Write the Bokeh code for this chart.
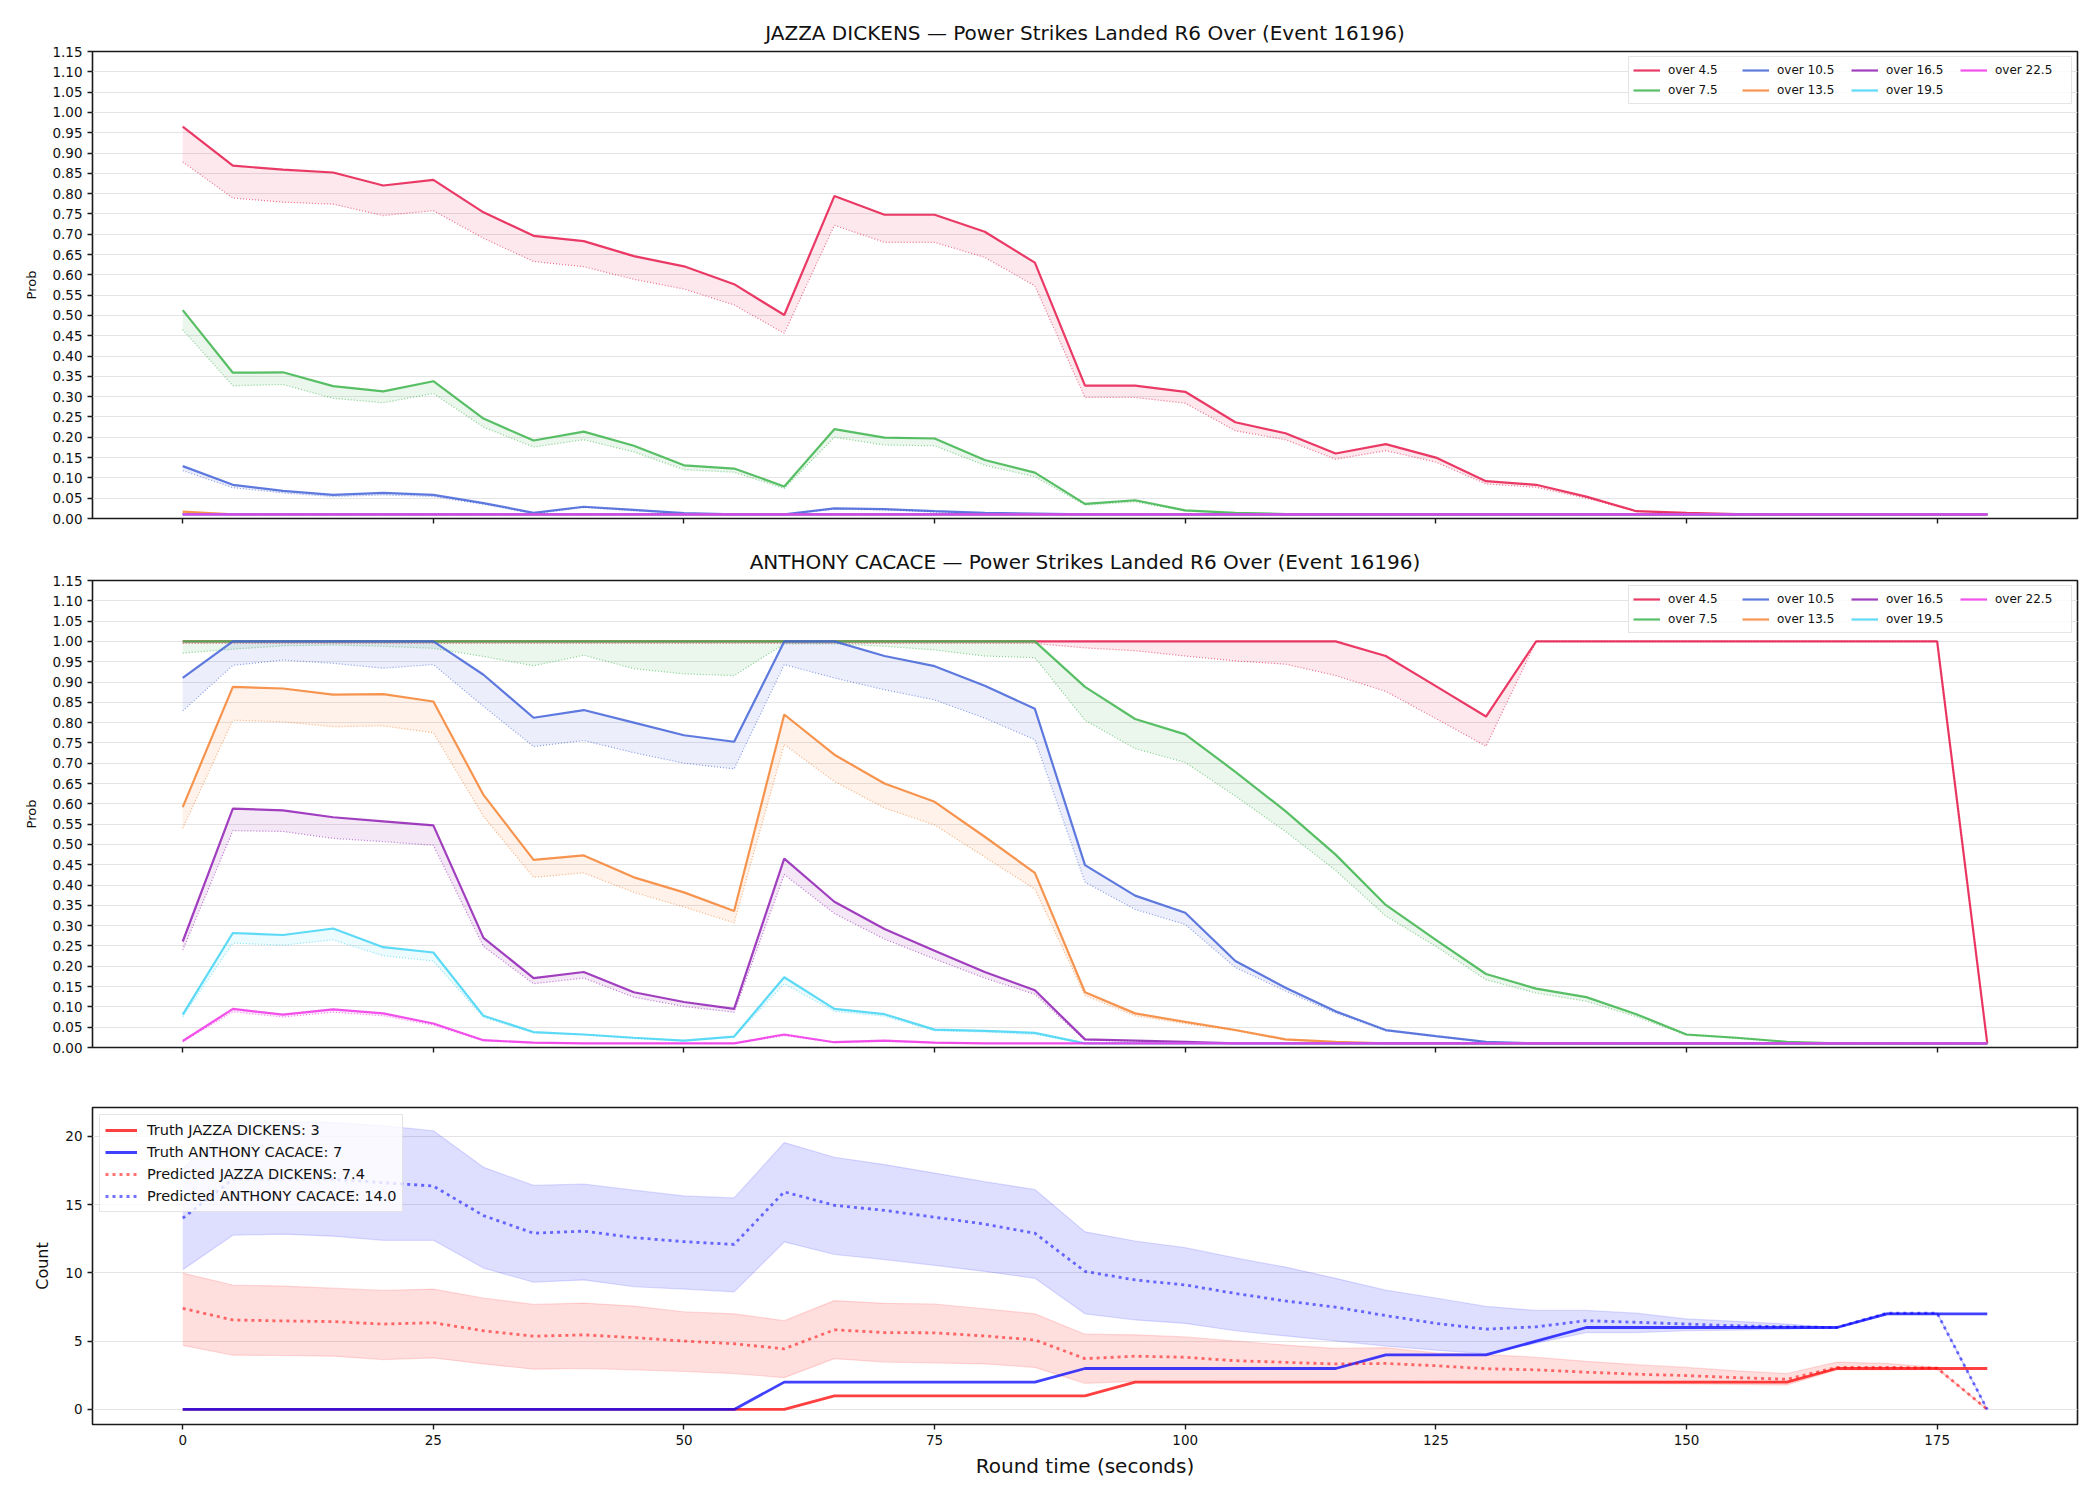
from bokeh.plotting import figure
from bokeh.layouts import column
from bokeh.models import Range1d, FixedTicker, PrintfTickFormatter, Legend, LegendItem
from bokeh.embed import file_html
from bokeh.resources import INLINE

# ---------------- data ----------------
t = [0, 5, 10, 15, 20, 25, 30, 35, 40, 45, 50, 55, 60, 65, 70, 75, 80, 85,
     90, 95, 100, 105, 110, 115, 120, 125, 130, 135, 140, 145, 150, 155, 160, 165, 170, 175, 180]

line_labels = ["over 4.5", "over 7.5", "over 10.5", "over 13.5", "over 16.5", "over 19.5", "over 22.5"]
line_colors = ["#e6194b", "#3cb44b", "#4363d8", "#f58231", "#911eb4", "#42d4f4", "#f032e6"]

# JAZZA DICKENS (top panel): solid = prob, dotted = lower bound
j_45 = [0.965, 0.869, 0.859, 0.852, 0.820, 0.834, 0.754, 0.696, 0.683, 0.646, 0.621, 0.577, 0.501, 0.794, 0.748, 0.748, 0.706, 0.630,
        0.327, 0.327, 0.312, 0.237, 0.210, 0.160, 0.183, 0.150, 0.092, 0.083, 0.054, 0.018, 0.014, 0.011, 0.010, 0.010, 0.010, 0.010, 0.010]
j_45_lo = [0.878, 0.789, 0.779, 0.774, 0.746, 0.758, 0.690, 0.633, 0.620, 0.589, 0.565, 0.526, 0.456, 0.722, 0.680, 0.680, 0.643, 0.573,
           0.298, 0.298, 0.284, 0.216, 0.194, 0.146, 0.167, 0.139, 0.085, 0.077, 0.050, 0.017, 0.013, 0.010, 0.010, 0.010, 0.010, 0.010, 0.010]
j_75 = [0.513, 0.359, 0.360, 0.326, 0.313, 0.338, 0.246, 0.192, 0.214, 0.179, 0.131, 0.123, 0.079, 0.220, 0.199, 0.197, 0.144, 0.113,
        0.036, 0.045, 0.020, 0.014, 0.011, 0.010, 0.010, 0.010, 0.010, 0.010, 0.010, 0.010, 0.010, 0.010, 0.010, 0.010, 0.010, 0.010, 0.010]
j_75_lo = [0.465, 0.327, 0.330, 0.296, 0.285, 0.308, 0.225, 0.176, 0.194, 0.164, 0.120, 0.114, 0.074, 0.200, 0.181, 0.179, 0.131, 0.103,
           0.033, 0.041, 0.018, 0.013, 0.010, 0.010, 0.010, 0.010, 0.010, 0.010, 0.010, 0.010, 0.010, 0.010, 0.010, 0.010, 0.010, 0.010, 0.010]
j_105 = [0.129, 0.083, 0.068, 0.058, 0.063, 0.058, 0.038, 0.014, 0.029, 0.021, 0.013, 0.010, 0.010, 0.025, 0.023, 0.018, 0.014, 0.012,
         0.010, 0.010, 0.010, 0.010, 0.010, 0.010, 0.010, 0.010, 0.010, 0.010, 0.010, 0.010, 0.010, 0.010, 0.010, 0.010, 0.010, 0.010, 0.010]
j_105_lo = [0.118, 0.076, 0.063, 0.054, 0.058, 0.054, 0.035, 0.012, 0.027, 0.019, 0.012, 0.010, 0.010, 0.023, 0.021, 0.016, 0.013, 0.011,
            0.010, 0.010, 0.010, 0.010, 0.010, 0.010, 0.010, 0.010, 0.010, 0.010, 0.010, 0.010, 0.010, 0.010, 0.010, 0.010, 0.010, 0.010, 0.010]
j_135 = [0.017, 0.010, 0.010, 0.010, 0.010, 0.010, 0.010, 0.010, 0.010, 0.010, 0.010, 0.010, 0.010, 0.010, 0.010, 0.010, 0.010, 0.010,
         0.010, 0.010, 0.010, 0.010, 0.010, 0.010, 0.010, 0.010, 0.010, 0.010, 0.010, 0.010, 0.010, 0.010, 0.010, 0.010, 0.010, 0.010, 0.010]
j_135_lo = [0.015, 0.010, 0.010, 0.010, 0.010, 0.010, 0.010, 0.010, 0.010, 0.010, 0.010, 0.010, 0.010, 0.010, 0.010, 0.010, 0.010, 0.010,
            0.010, 0.010, 0.010, 0.010, 0.010, 0.010, 0.010, 0.010, 0.010, 0.010, 0.010, 0.010, 0.010, 0.010, 0.010, 0.010, 0.010, 0.010, 0.010]
j_165 = [0.010, 0.010, 0.010, 0.010, 0.010, 0.010, 0.010, 0.010, 0.010, 0.010, 0.010, 0.010, 0.010, 0.010, 0.010, 0.010, 0.010, 0.010,
         0.010, 0.010, 0.010, 0.010, 0.010, 0.010, 0.010, 0.010, 0.010, 0.010, 0.010, 0.010, 0.010, 0.010, 0.010, 0.010, 0.010, 0.010, 0.010]
j_165_lo = j_165
j_195 = j_165
j_195_lo = j_165
j_225 = j_165
j_225_lo = j_165

# ANTHONY CACACE (middle panel)
a_45 = [1.0, 1.0, 1.0, 1.0, 1.0, 1.0, 1.0, 1.0, 1.0, 1.0, 1.0, 1.0, 1.0, 1.0, 1.0, 1.0, 1.0, 1.0,
        1.0, 1.0, 1.0, 1.0, 1.0, 1.0, 0.964, 0.890, 0.815, 1.0, 1.0, 1.0, 1.0, 1.0, 1.0, 1.0, 1.0, 1.0, 0.010]
a_45_lo = [0.995, 0.995, 0.995, 0.995, 0.995, 0.995, 0.995, 0.995, 0.995, 0.995, 0.995, 0.995, 0.995, 0.995, 0.995, 0.995, 0.995, 0.995,
           0.984, 0.977, 0.964, 0.952, 0.944, 0.916, 0.877, 0.810, 0.742, 1.0, 1.0, 1.0, 1.0, 1.0, 1.0, 1.0, 1.0, 1.0, 0.010]
a_75 = [1.0, 1.0, 1.0, 1.0, 1.0, 1.0, 1.0, 1.0, 1.0, 1.0, 1.0, 1.0, 1.0, 1.0, 1.0, 1.0, 1.0, 1.0,
        0.888, 0.809, 0.771, 0.679, 0.582, 0.475, 0.351, 0.265, 0.181, 0.145, 0.124, 0.082, 0.032, 0.024, 0.014, 0.010, 0.010, 0.010, 0.010]
a_75_lo = [0.971, 0.981, 0.989, 0.991, 0.988, 0.983, 0.963, 0.940, 0.966, 0.933, 0.920, 0.916, 0.994, 0.994, 0.988, 0.979, 0.964, 0.960,
           0.806, 0.736, 0.702, 0.619, 0.532, 0.436, 0.324, 0.249, 0.167, 0.134, 0.114, 0.076, 0.030, 0.022, 0.013, 0.010, 0.010, 0.010, 0.010]
a_105 = [0.910, 1.0, 1.0, 1.0, 1.0, 1.0, 0.918, 0.812, 0.831, 0.800, 0.769, 0.753, 1.0, 1.0, 0.964, 0.939, 0.891, 0.834,
         0.449, 0.374, 0.332, 0.213, 0.147, 0.089, 0.043, 0.028, 0.014, 0.010, 0.010, 0.010, 0.010, 0.010, 0.010, 0.010, 0.010, 0.010, 0.010]
a_105_lo = [0.829, 0.941, 0.954, 0.946, 0.934, 0.943, 0.840, 0.741, 0.756, 0.726, 0.700, 0.686, 0.943, 0.910, 0.881, 0.856, 0.811, 0.758,
            0.407, 0.340, 0.303, 0.197, 0.139, 0.085, 0.041, 0.027, 0.013, 0.010, 0.010, 0.010, 0.010, 0.010, 0.010, 0.010, 0.010, 0.010, 0.010]
a_135 = [0.592, 0.888, 0.884, 0.869, 0.870, 0.852, 0.622, 0.462, 0.473, 0.419, 0.382, 0.336, 0.820, 0.721, 0.650, 0.605, 0.519, 0.430,
         0.136, 0.084, 0.063, 0.043, 0.020, 0.014, 0.010, 0.010, 0.010, 0.010, 0.010, 0.010, 0.010, 0.010, 0.010, 0.010, 0.010, 0.010, 0.010]
a_135_lo = [0.540, 0.806, 0.802, 0.790, 0.792, 0.775, 0.569, 0.419, 0.430, 0.382, 0.346, 0.307, 0.746, 0.655, 0.590, 0.548, 0.469, 0.390,
            0.128, 0.078, 0.059, 0.041, 0.018, 0.013, 0.010, 0.010, 0.010, 0.010, 0.010, 0.010, 0.010, 0.010, 0.010, 0.010, 0.010, 0.010, 0.010]
a_165 = [0.261, 0.588, 0.584, 0.567, 0.557, 0.547, 0.270, 0.171, 0.186, 0.136, 0.112, 0.095, 0.465, 0.359, 0.292, 0.238, 0.186, 0.141,
         0.020, 0.017, 0.014, 0.010, 0.010, 0.010, 0.010, 0.010, 0.010, 0.010, 0.010, 0.010, 0.010, 0.010, 0.010, 0.010, 0.010, 0.010, 0.010]
a_165_lo = [0.240, 0.534, 0.532, 0.515, 0.507, 0.498, 0.249, 0.157, 0.171, 0.124, 0.101, 0.087, 0.426, 0.330, 0.267, 0.218, 0.171, 0.131,
            0.018, 0.016, 0.013, 0.010, 0.010, 0.010, 0.010, 0.010, 0.010, 0.010, 0.010, 0.010, 0.010, 0.010, 0.010, 0.010, 0.010, 0.010, 0.010]
a_195 = [0.081, 0.282, 0.277, 0.293, 0.247, 0.234, 0.078, 0.038, 0.032, 0.024, 0.017, 0.027, 0.173, 0.095, 0.082, 0.044, 0.041, 0.036,
         0.010, 0.010, 0.010, 0.010, 0.010, 0.010, 0.010, 0.010, 0.010, 0.010, 0.010, 0.010, 0.010, 0.010, 0.010, 0.010, 0.010, 0.010, 0.010]
a_195_lo = [0.076, 0.257, 0.252, 0.265, 0.226, 0.213, 0.074, 0.036, 0.031, 0.022, 0.016, 0.026, 0.157, 0.089, 0.077, 0.041, 0.038, 0.032,
            0.010, 0.010, 0.010, 0.010, 0.010, 0.010, 0.010, 0.010, 0.010, 0.010, 0.010, 0.010, 0.010, 0.010, 0.010, 0.010, 0.010, 0.010, 0.010]
a_225 = [0.016, 0.095, 0.081, 0.094, 0.084, 0.059, 0.018, 0.012, 0.010, 0.010, 0.010, 0.010, 0.032, 0.013, 0.017, 0.012, 0.010, 0.010,
         0.010, 0.010, 0.010, 0.010, 0.010, 0.010, 0.010, 0.010, 0.010, 0.010, 0.010, 0.010, 0.010, 0.010, 0.010, 0.010, 0.010, 0.010, 0.010]
a_225_lo = [0.014, 0.088, 0.075, 0.087, 0.078, 0.055, 0.016, 0.011, 0.010, 0.010, 0.010, 0.010, 0.029, 0.012, 0.015, 0.011, 0.010, 0.010,
            0.010, 0.010, 0.010, 0.010, 0.010, 0.010, 0.010, 0.010, 0.010, 0.010, 0.010, 0.010, 0.010, 0.010, 0.010, 0.010, 0.010, 0.010, 0.010]

# Bottom panel: counts
truth_j = [0, 0, 0, 0, 0, 0, 0, 0, 0, 0, 0, 0, 0, 1, 1, 1, 1, 1,
           1, 2, 2, 2, 2, 2, 2, 2, 2, 2, 2, 2, 2, 2, 2, 3, 3, 3, 3]
truth_a = [0, 0, 0, 0, 0, 0, 0, 0, 0, 0, 0, 0, 2, 2, 2, 2, 2, 2,
           3, 3, 3, 3, 3, 3, 4, 4, 4, 5, 6, 6, 6, 6, 6, 6, 7, 7, 7]
pred_j = [7.4, 6.55, 6.48, 6.43, 6.25, 6.35, 5.76, 5.36, 5.46, 5.26, 5.01, 4.81, 4.44, 5.83, 5.63, 5.61, 5.38, 5.09,
          3.72, 3.90, 3.82, 3.57, 3.45, 3.33, 3.37, 3.20, 2.98, 2.90, 2.73, 2.58, 2.48, 2.33, 2.21, 3.08, 3.08, 3.03, 0.0]
pred_j_hi = [9.98, 9.11, 9.03, 8.88, 8.71, 8.81, 8.16, 7.69, 7.79, 7.57, 7.15, 7.00, 6.50, 7.97, 7.77, 7.72, 7.37, 7.00,
             5.51, 5.46, 5.31, 5.01, 4.71, 4.47, 4.52, 4.14, 4.02, 3.82, 3.52, 3.28, 3.08, 2.83, 2.63, 3.47, 3.37, 3.08, 0.0]
pred_j_lo = [4.69, 3.97, 3.95, 3.90, 3.65, 3.77, 3.33, 2.95, 3.00, 2.90, 2.78, 2.63, 2.33, 3.72, 3.47, 3.40, 3.33, 3.08,
             1.91, 2.05, 2.08, 2.05, 2.02, 2.00, 1.98, 1.96, 1.95, 1.93, 1.91, 1.89, 1.87, 1.84, 1.80, 2.90, 2.90, 2.95, 0.0]
pred_a = [14.0, 16.85, 16.87, 16.85, 16.60, 16.35, 14.19, 12.90, 13.05, 12.58, 12.28, 12.08, 15.93, 14.94, 14.57, 14.07, 13.57, 12.90,
          10.10, 9.48, 9.11, 8.49, 7.94, 7.49, 6.87, 6.30, 5.88, 6.05, 6.50, 6.38, 6.25, 6.13, 6.05, 6.00, 7.05, 7.05, 0.0]
pred_a_hi = [17.6, 21.0, 21.05, 21.0, 20.77, 20.4, 17.72, 16.40, 16.50, 16.05, 15.63, 15.48, 19.53, 18.46, 17.92, 17.30, 16.67, 16.10,
             13.00, 12.33, 11.84, 11.09, 10.42, 9.60, 8.73, 8.16, 7.54, 7.25, 7.25, 7.05, 6.63, 6.45, 6.25, 6.00, 7.05, 7.05, 0.0]
pred_a_lo = [10.22, 12.75, 12.83, 12.68, 12.38, 12.38, 10.35, 9.31, 9.48, 8.98, 8.81, 8.61, 12.26, 11.34, 10.97, 10.55, 10.10, 9.60,
             7.00, 6.55, 6.30, 5.76, 5.38, 5.01, 4.64, 4.34, 4.07, 4.85, 5.63, 5.63, 5.76, 5.81, 5.88, 6.00, 7.05, 7.05, 0.0]

prob_ticks = [0.00, 0.05, 0.10, 0.15, 0.20, 0.25, 0.30, 0.35, 0.40, 0.45, 0.50, 0.55,
              0.60, 0.65, 0.70, 0.75, 0.80, 0.85, 0.90, 0.95, 1.00, 1.05, 1.10, 1.15]
count_ticks = [0, 5, 10, 15, 20]
time_ticks = [0, 25, 50, 75, 100, 125, 150, 175]

top_series = [(j_45, j_45_lo), (j_75, j_75_lo), (j_105, j_105_lo), (j_135, j_135_lo),
              (j_165, j_165_lo), (j_195, j_195_lo), (j_225, j_225_lo)]
mid_series = [(a_45, a_45_lo), (a_75, a_75_lo), (a_105, a_105_lo), (a_135, a_135_lo),
              (a_165, a_165_lo), (a_195, a_195_lo), (a_225, a_225_lo)]

FONT = "DejaVu Sans"
xr = Range1d(-9, 189)


def style(p, show_xlabels):
    p.background_fill_color = "white"
    p.border_fill_color = "white"
    p.outline_line_color = "#1a1a1a"
    p.outline_line_width = 1.6
    p.title.text_font = FONT
    p.title.text_font_size = "20px"
    p.title.text_font_style = "normal"
    p.title.align = "center"
    p.title.text_color = "#111111"
    p.title.standoff = 14
    p.xgrid.grid_line_color = None
    p.ygrid.grid_line_color = "#e4e4e4"
    p.ygrid.grid_line_width = 1.1
    for ax in (p.xaxis[0], p.yaxis[0]):
        ax.axis_line_color = None
        ax.major_tick_line_color = "#1a1a1a"
        ax.major_tick_line_width = 1.4
        ax.major_tick_out = 5
        ax.major_tick_in = 0
        ax.minor_tick_line_color = None
        ax.major_label_text_font = FONT
        ax.major_label_text_font_size = "13.5px"
        ax.major_label_text_color = "#111111"
        ax.axis_label_text_font = FONT
        ax.axis_label_text_font_style = "normal"
        ax.axis_label_text_color = "#111111"
    p.xaxis.ticker = FixedTicker(ticks=time_ticks)
    p.xaxis.major_label_standoff = 5
    if not show_xlabels:
        # shared x axis: tick marks only, no labels
        p.xaxis.major_label_overrides = {tk: "" for tk in time_ticks}
        p.xaxis.major_label_standoff = 0


def prob_panel(title, series, height, top, bottom):
    p = figure(width=2100, height=height, x_range=xr, y_range=Range1d(0, 1.15),
               output_backend="svg", toolbar_location=None, title=title,
               min_border_left=92, min_border_right=23, min_border_top=top, min_border_bottom=bottom)
    style(p, False)
    p.yaxis.ticker = FixedTicker(ticks=prob_ticks)
    p.yaxis.formatter = PrintfTickFormatter(format="%.2f")
    p.yaxis.axis_label = "Prob"
    p.yaxis.axis_label_text_font_size = "13px"
    p.yaxis.axis_label_standoff = 10
    items = []
    for (hi, lo), lab, col in zip(series, line_labels, line_colors):
        p.varea(x=t, y1=lo, y2=hi, fill_color=col, fill_alpha=0.1)
        p.line(t, lo, line_color=col, line_width=1.2, line_alpha=0.6, line_dash="1 2")
        r = p.line(t, hi, line_color=col, line_width=2.2, line_alpha=0.85)
        items.append(LegendItem(label=lab, renderers=[r]))
    leg = Legend(items=items, location="top_right", orientation="vertical", nrows=2,
                 label_text_font=FONT, label_text_font_size="12px", label_text_color="#111111",
                 glyph_width=27, glyph_height=18, label_height=18, label_width=72, label_standoff=8,
                 spacing=2, padding=4, margin=5,
                 border_line_color="#cccccc", border_line_width=1.2, background_fill_alpha=0.8)
    p.add_layout(leg, "center")
    return p


p1 = prob_panel("JAZZA DICKENS \u2014 Power Strikes Landed R6 Over (Event 16196)", top_series, 540, 51, 22)
p2 = prob_panel("ANTHONY CACACE \u2014 Power Strikes Landed R6 Over (Event 16196)", mid_series, 529, 39, 22)

p3 = figure(width=2100, height=431, x_range=xr, y_range=Range1d(-1.1, 22.1),
            output_backend="svg", toolbar_location=None,
            min_border_left=92, min_border_right=23, min_border_top=38, min_border_bottom=76)
style(p3, True)
p3.yaxis.ticker = FixedTicker(ticks=count_ticks)
p3.yaxis.axis_label = "Count"
p3.yaxis.axis_label_text_font_size = "16px"
p3.yaxis.axis_label_standoff = 10
p3.xaxis.axis_label = "Round time (seconds)"
p3.xaxis.axis_label_text_font_size = "20px"
p3.xaxis.axis_label_standoff = 6

p3.varea(x=t, y1=pred_a_lo, y2=pred_a_hi, fill_color="blue", fill_alpha=0.13)
p3.line(t, pred_a_lo, line_color="blue", line_alpha=0.13, line_width=1.2)
p3.line(t, pred_a_hi, line_color="blue", line_alpha=0.13, line_width=1.2)
p3.varea(x=t, y1=pred_j_lo, y2=pred_j_hi, fill_color="red", fill_alpha=0.13)
p3.line(t, pred_j_lo, line_color="red", line_alpha=0.13, line_width=1.2)
p3.line(t, pred_j_hi, line_color="red", line_alpha=0.13, line_width=1.2)
r_tj = p3.line(t, truth_j, line_color="red", line_alpha=0.75, line_width=2.8)
r_ta = p3.line(t, truth_a, line_color="blue", line_alpha=0.75, line_width=2.8)
r_pj = p3.line(t, pred_j, line_color="red", line_alpha=0.55, line_width=2.8, line_dash="3 4")
r_pa = p3.line(t, pred_a, line_color="blue", line_alpha=0.55, line_width=2.8, line_dash="3 4")

leg3 = Legend(items=[LegendItem(label="Truth JAZZA DICKENS: 3", renderers=[r_tj]),
                     LegendItem(label="Truth ANTHONY CACACE: 7", renderers=[r_ta]),
                     LegendItem(label="Predicted JAZZA DICKENS: 7.4", renderers=[r_pj]),
                     LegendItem(label="Predicted ANTHONY CACACE: 14.0", renderers=[r_pa])],
              location="top_left", label_text_font=FONT, label_text_font_size="14.5px",
              label_text_color="#111111", glyph_width=32, glyph_height=20, label_height=20,
              label_standoff=10, spacing=2, padding=5, margin=7,
              border_line_color="#cccccc", border_line_width=1.2, background_fill_alpha=0.8)
p3.add_layout(leg3, "center")

layout = column(p1, p2, p3, spacing=0)
open("out.html", "w").write(file_html(layout, INLINE))
